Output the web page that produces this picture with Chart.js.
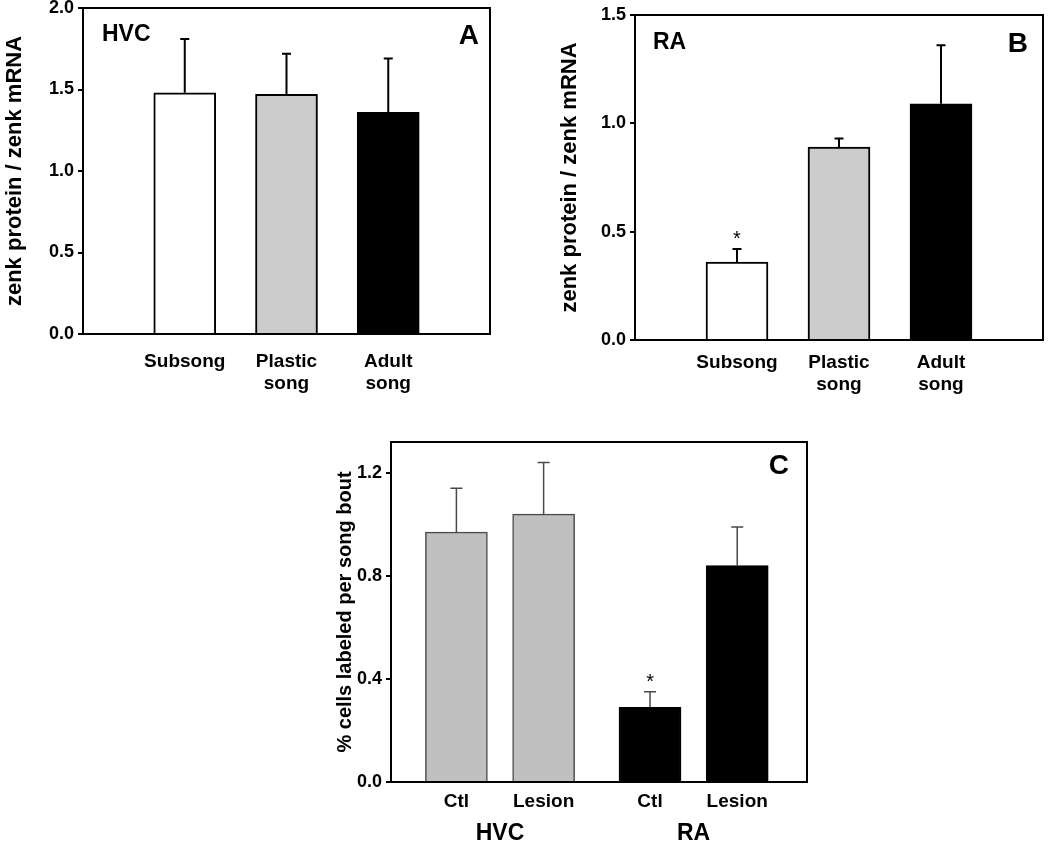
<!DOCTYPE html>
<html>
<head>
<meta charset="utf-8">
<script src="https://cdn.jsdelivr.net/npm/chart.js@4.4.1/dist/chart.umd.min.js"></script>
<style>
body { margin: 0; background: #fff; }
#wrap { position: relative; width: 1050px; height: 846px; }
canvas { position: absolute; }
</style>
</head>
<body>
<div id="wrap">
  <canvas id="chartA" width="520" height="400" style="left:0px;top:0px"></canvas>
  <canvas id="chartB" width="495" height="400" style="left:555px;top:0px"></canvas>
  <canvas id="chartC" width="520" height="436" style="left:330px;top:410px"></canvas>
</div>
<script>
// Data
const songStages = [['Subsong'], ['Plastic', 'song'], ['Adult', 'song']];
const hvcRatio = [1.48, 1.47, 1.36];
const hvcRatioErr = [0.33, 0.25, 0.33];
const hvcSignificant = [false, false, false];
const raRatio = [0.36, 0.89, 1.09];
const raRatioErr = [0.06, 0.04, 0.27];
const raSignificant = [true, false, false];
const ratioTicksA = [0, 0.5, 1.0, 1.5, 2.0];
const ratioTicksB = [0, 0.5, 1.0, 1.5];

const lesionCats = ['Ctl', 'Lesion', 'Ctl', 'Lesion'];
const lesionGroups = ['HVC', 'HVC', 'RA', 'RA'];
const cellsLabeled = [0.97, 1.04, 0.29, 0.84];
const cellsLabeledErr = [0.17, 0.20, 0.06, 0.15];
const cellsSignificant = [false, false, true, false];
const cellsTicks = [0, 0.4, 0.8, 1.2];

// Styles
const stageFill = ['#ffffff', '#cccccc', '#000000'];
const lesionFill = ['#c0c0c0', '#c0c0c0', '#000000', '#000000'];
const lesionBorder = ['#4a4a4a', '#4a4a4a', '#000000', '#000000'];
const FONT = '"Liberation Sans", Arial, Helvetica, sans-serif';

Chart.defaults.font.family = FONT;
Chart.defaults.color = '#000';

// frame, error bars, asterisks and panel texts
const extrasPlugin = {
    id: 'extras',
    afterDatasetsDraw(chart, args, opts) {
        const ctx = chart.ctx;
        const area = chart.chartArea;
        const y = chart.scales.y;
        const meta = chart.getDatasetMeta(0);
        ctx.save();

        ctx.strokeStyle = '#000';
        ctx.lineWidth = opts.frameWidth;
        ctx.strokeRect(area.left, area.top, area.right - area.left, area.bottom - area.top);

        meta.data.forEach((bar, i) => {
            const top = y.getPixelForValue(opts.values[i] + opts.errors[i]);
            ctx.strokeStyle = opts.errColor;
            ctx.lineWidth = opts.errWidth;
            ctx.beginPath();
            ctx.moveTo(bar.x, bar.y);
            ctx.lineTo(bar.x, top);
            ctx.moveTo(bar.x - opts.cap / 2, top);
            ctx.lineTo(bar.x + opts.cap / 2, top);
            ctx.stroke();
            if (opts.significant[i]) {
                ctx.fillStyle = '#000';
                ctx.font = '20px ' + FONT;
                ctx.textAlign = 'center';
                ctx.textBaseline = 'alphabetic';
                ctx.fillText('*', bar.x, top - 4);
            }
        });

        ctx.fillStyle = '#000';
        ctx.textBaseline = 'middle';
        if (opts.tag) {
            ctx.font = 'bold 23px ' + FONT;
            ctx.textAlign = 'left';
            ctx.fillText(opts.tag, area.left + opts.tagX, area.top + opts.tagY);
        }
        ctx.font = 'bold 28px ' + FONT;
        ctx.textAlign = 'right';
        ctx.fillText(opts.letter, area.right - opts.letterX, area.top + opts.letterY);

        // group labels under the axis (panel C)
        if (opts.groups) {
            ctx.font = 'bold 23px ' + FONT;
            ctx.textAlign = 'center';
            const names = [...new Set(opts.groups)];
            names.forEach(g => {
                const px = meta.data.filter((b, i) => opts.groups[i] === g).map(b => b.x);
                const cx = (Math.min(...px) + Math.max(...px)) / 2;
                ctx.fillText(g, cx, area.bottom + opts.groupY);
            });
        }
        ctx.restore();
    }
};

function makePanel(id, p) {
    const points = p.values.map((v, i) => ({ x: p.xs[i], y: v }));
    return new Chart(document.getElementById(id), {
        type: 'bar',
        data: {
            datasets: [{
                data: points,
                backgroundColor: p.fill,
                borderColor: p.border,
                borderWidth: p.barBorder,
                borderSkipped: 'start',
                barThickness: 62
            }]
        },
        options: {
            responsive: false,
            animation: false,
            layout: { padding: p.padding },
            plugins: {
                legend: { display: false },
                tooltip: { enabled: false },
                extras: p.extras
            },
            scales: {
                x: {
                    type: 'linear',
                    offset: false,
                    min: p.xMin,
                    max: p.xMax,
                    grid: { display: false, offset: false },
                    border: { display: false },
                    afterBuildTicks: s => { s.ticks = p.xs.map(v => ({ value: v })); },
                    ticks: {
                        autoSkip: false,
                        maxRotation: 0,
                        padding: p.xPad,
                        font: { size: 19, weight: 'bold' },
                        color: '#000',
                        callback: (v, i) => p.labels[i]
                    },
                    afterFit: s => { s.height = p.xHeight; s.paddingLeft = 0; s.paddingRight = 0; }
                },
                y: {
                    min: 0,
                    max: p.yMax,
                    afterBuildTicks: s => { s.ticks = p.yTicks.map(v => ({ value: v })); },
                    grid: { drawOnChartArea: false, drawTicks: true, tickLength: 5, color: '#000', lineWidth: 2 },
                    border: { display: false },
                    ticks: {
                        padding: p.yPad,
                        font: { size: 18, weight: 'bold' },
                        color: '#000',
                        callback: v => v.toFixed(1)
                    },
                    title: {
                        display: true,
                        text: p.yTitle,
                        font: { size: p.yTitleSize, weight: 'bold' },
                        color: '#000',
                        padding: { top: p.yTitlePad, bottom: 0 }
                    },
                    afterFit: s => { s.width = p.yWidth; s.paddingTop = 0; s.paddingBottom = 0; }
                }
            }
        },
        plugins: [extrasPlugin]
    });
}

// Panel A - HVC
makePanel('chartA', {
    values: hvcRatio,
    xs: hvcRatio.map((v, i) => i + 1),
    labels: songStages,
    fill: stageFill,
    border: '#000',
    barBorder: 2,
    padding: { top: 8, right: 30, left: 0, bottom: 0 },
    xMin: 0, xMax: 4,
    xPad: 8, xHeight: 66,
    yMax: 2.0, yTicks: ratioTicksA, yPad: 4, yWidth: 83,
    yTitle: 'zenk protein / zenk mRNA', yTitleSize: 22, yTitlePad: 2,
    extras: {
        values: hvcRatio, errors: hvcRatioErr, significant: hvcSignificant,
        frameWidth: 2, errColor: '#000', errWidth: 2, cap: 9,
        tag: 'HVC', tagX: 19, tagY: 27,
        letter: 'A', letterX: 11, letterY: 28
    }
});

// Panel B - RA
makePanel('chartB', {
    values: raRatio,
    xs: raRatio.map((v, i) => i + 1),
    labels: songStages,
    fill: stageFill,
    border: '#000',
    barBorder: 2,
    padding: { top: 15, right: 7, left: 0, bottom: 0 },
    xMin: 0, xMax: 4,
    xPad: 3, xHeight: 60,
    yMax: 1.5, yTicks: ratioTicksB, yPad: 4, yWidth: 80,
    yTitle: 'zenk protein / zenk mRNA', yTitleSize: 22, yTitlePad: 2,
    extras: {
        values: raRatio, errors: raRatioErr, significant: raSignificant,
        frameWidth: 2, errColor: '#000', errWidth: 2, cap: 9,
        tag: 'RA', tagX: 18, tagY: 28,
        letter: 'B', letterX: 15, letterY: 29
    }
});

// Panel C - lesion experiment, bars grouped by region
const groupNames = [...new Set(lesionGroups)];
makePanel('chartC', {
    values: cellsLabeled,
    xs: cellsLabeled.map((v, i) => i + 1 + groupNames.indexOf(lesionGroups[i]) * 0.22),
    labels: lesionCats,
    fill: lesionFill,
    border: lesionBorder,
    barBorder: 1.5,
    padding: { top: 32, right: 43, left: 0, bottom: 0 },
    xMin: 0.25, xMax: 5.02,
    xPad: 0, xHeight: 64,
    yMax: 1.32, yTicks: cellsTicks, yPad: 4, yWidth: 61,
    yTitle: '% cells labeled per song bout', yTitleSize: 20, yTitlePad: 3,
    extras: {
        values: cellsLabeled, errors: cellsLabeledErr, significant: cellsSignificant,
        frameWidth: 2, errColor: '#4a4a4a', errWidth: 1.5, cap: 12,
        letter: 'C', letterX: 18, letterY: 24,
        groups: lesionGroups, groupY: 52
    }
});
</script>
</body>
</html>
